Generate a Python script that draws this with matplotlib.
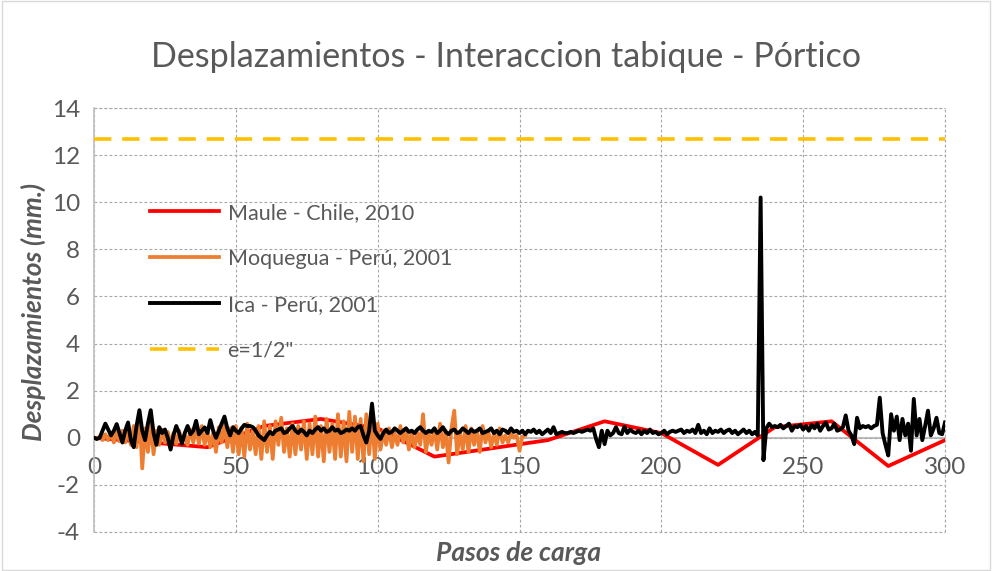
import matplotlib
matplotlib.use("Agg")
import matplotlib.pyplot as plt
from matplotlib.patches import Rectangle

plt.rcParams['font.family'] = ['Lato', 'DejaVu Sans']

# ---------------- data ----------------
maule_x = [0, 20, 40, 60, 80, 100, 120, 140, 160, 180, 200, 220, 240, 260, 280, 300]
maule_y = [0, -0.2, -0.4, 0.5, 0.8, 0.4, -0.8, -0.45, -0.1, 0.7, 0.2, -1.15, 0.45, 0.7, -1.2, -0.1]

moquegua_y = [
    0, -0.05, 0.05, -0.1, 0.15, -0.1, 0.2, -0.2, 0.25, -0.15,
    0.3, -0.2, 0.35, -0.3, 0.5, -0.4, 1.1, -1.3, 0.4, -0.6,
    0.6, -0.7, 0.3, -0.3, 0.35, -0.2, 0.25, -0.3, 0.2, -0.25,
    0.3, -0.2, 0.15, -0.3, 0.35, -0.2, 0.4, -0.25, 0.5, -0.3,
    0.3, -0.4, 0.2, -0.6, 0.45, -0.2, 0.6, -0.4, 0.4, -0.6,
    0.5, -0.7, 0.4, -0.8, 0.6, -0.5, 0.3, -0.7, 0.5, -0.9,
    0.7, -0.6, 0.5, -0.9, 0.7, -0.3, 0.85, -0.6, 0.4, -0.8,
    0.6, -0.7, 0.5, -0.5, 0.7, -0.9, 0.6, -0.7, 0.9, -0.8,
    0.5, -1.0, 0.8, -0.6, 0.6, -0.9, 1.0, -0.8, 0.7, -1.0,
    1.1, -0.6, 0.9, -0.9, 0.8, -1.0, 1.0, -0.7, 0.9, -0.9,
    0.6, -0.5, 0.3, -0.3, 0.4, -0.4, 0.2, -0.3, 0.5, -0.2,
    0.4, -0.5, 0.3, -0.4, 0.2, -0.3, 1.0, -0.6, 0.2, -0.3,
    0.4, -0.5, 0.6, -0.4, 0.3, -1.05, 0.4, 1.15, -0.7, 0.2,
    -0.5, 0.5, -0.6, 0.4, -0.3, 0.3, -0.6, 0.5, -0.2, 0.3,
    -0.4, 0.2, -0.3, 0.4, -0.2, 0.1, -0.2, 0.2, 0.0, 0.1,
    -0.55, 0.05, 0.1,
]
moquegua_x = list(range(len(moquegua_y)))

ica_y = [
    0, -0.05, 0.0, 0.3, 0.6, 0.35, 0.1, 0.3, 0.58, 0.2,
    -0.2, 0.3, 0.65, -0.1, -0.4, 0.5, 1.17, 0.3, -0.1, 0.6,
    1.17, 0.2, -0.3, 0.45, 0.2, 0.35, 0.0, -0.5, 0.1, 0.5,
    0.2, -0.25, 0.2, 0.5, 0.15, 0.3, 0.72, 0.15, 0.3, 0.44,
    0.2, 0.75, 0.3, 0.0, 0.3, 0.6, 0.9, 0.4, 0.1, 0.45,
    0.3, 0.2, 0.4, 0.55, 0.5, 0.5, 0.45, 0.3, 0.1, 0.0,
    -0.1, 0.1, 0.25, 0.15, 0.3, 0.35, 0.4, 0.2, 0.25, 0.4,
    0.5, 0.3, 0.2, 0.35, 0.25, 0.1, 0.3, 0.2, 0.35, 0.45,
    0.3, 0.4, 0.25, 0.3, 0.45, 0.3, 0.35, 0.2, 0.25, 0.35,
    0.3, 0.4, 0.3, 0.45, 0.5, 0.1, -0.2, 0.3, 1.45, 0.3,
    0.1, -0.05, 0.2, 0.35, 0.2, 0.25, 0.4, 0.3, 0.2, 0.3,
    0.4, 0.25, 0.3, 0.2, 0.35, 0.45, 0.3, 0.2, 0.3, 0.25,
    0.4, 0.2, 0.3, 0.45, 0.25, 0.15, 0.3, 0.35, 0.2, 0.25,
    0.4, 0.3, 0.2, 0.35, 0.25, 0.3, 0.4, 0.2, 0.25, 0.3,
    0.4, 0.2, 0.3, 0.15, 0.35, 0.3, 0.2, 0.4, 0.25, 0.3,
    0.2, 0.3, 0.15, 0.3, 0.25, 0.35, 0.2, 0.3, 0.15, 0.25,
    0.35, 0.2, 0.45, 0.15, 0.2, 0.25, 0.2, 0.2, 0.25, 0.2,
    0.25, 0.3, 0.25, 0.3, 0.35, 0.3, 0.4, -0.05, -0.4, 0.3,
    -0.27, 0.3, 0.1, 0.2, 0.45, 0.2, 0.15, 0.47, 0.2, 0.35,
    0.25, 0.2, 0.3, 0.15, 0.3, 0.2, 0.35, 0.2, 0.25, 0.15,
    0.2, 0.3, 0.15, 0.25, 0.3, 0.25, 0.3, 0.35, 0.2, 0.3,
    0.25, 0.35, 0.2, 0.55, 0.2, 0.3, 0.15, 0.4, 0.2, 0.3,
    0.25, 0.35, 0.2, 0.3, 0.35, 0.2, 0.3, 0.15, 0.25, 0.35,
    0.2, 0.3, 0.15, 0.25, 0.1, 10.2, -0.95, 0.4, 0.6, 0.45,
    0.5, 0.45, 0.55, 0.4, 0.5, 0.6, 0.3, 0.5, 0.45, 0.55,
    0.35, 0.5, 0.3, 0.55, 0.4, 0.6, 0.3, 0.5, 0.65, 0.35,
    0.4, 0.6, 0.3, 0.35, 0.45, 0.95, 0.3, 0.1, -0.27, 0.85,
    0.4, 0.5, 0.45, 0.5, 0.4, 0.5, 0.55, 1.7, 0.2, -0.3,
    -0.75, 1.0, 0.3, 0.9, -0.1, 0.8, 0.1, 0.6, -0.55, 1.65,
    0.1, 0.8, -0.1, 0.5, 1.15, 0.1, 0.4, 0.85, 0.2, 0.15,
    0.65,
]
ica_x = list(range(len(ica_y)))

limit_x = [0, 300]
limit_y = [12.7, 12.7]

series_labels = ["Maule - Chile, 2010", "Moquegua - Perú, 2001", "Ica - Perú, 2001", 'e=1/2"']
x_ticks = [0, 50, 100, 150, 200, 250, 300]
y_ticks = [-4, -2, 0, 2, 4, 6, 8, 10, 12, 14]

# ---------------- figure ----------------
W, H = 992, 571
fig = plt.figure(figsize=(W / 100, H / 100), dpi=100)
ax = fig.add_axes([94 / W, 1 - 532 / H, (945 - 94) / W, (532 - 108) / H])

text_color = '#595959'
grid_color = '#A6A6A6'

l1, = ax.plot(maule_x, maule_y, color='#FF0000', lw=2.7, solid_joinstyle='round', zorder=3)
l2, = ax.plot(moquegua_x, moquegua_y, color='#ED7D31', lw=2.7, solid_joinstyle='round', zorder=4)
l3, = ax.plot(ica_x, ica_y, color='#000000', lw=2.8, solid_joinstyle='round', zorder=5)
l4, = ax.plot(limit_x, limit_y, color='#FFC000', lw=2.6, linestyle=(0, (4.8, 3)), zorder=6)

ax.set_xlim(0, 300)
ax.set_ylim(-4, 14)
ax.set_xticks(x_ticks)
ax.set_yticks(y_ticks)
ax.set_xticklabels([str(v) for v in x_ticks])
ax.set_yticklabels([str(v) for v in y_ticks])

ax.grid(True, color=grid_color, linestyle=(0, (2.5, 2)), lw=0.8, zorder=0)
for s in ['top', 'right']:
    ax.spines[s].set_visible(False)
ax.spines['left'].set_color('#BFBFBF')
ax.spines['left'].set_linewidth(1.2)
ax.spines['bottom'].set_position(('data', 0))
ax.spines['bottom'].set_color('#BFBFBF')
ax.spines['bottom'].set_linewidth(1.5)
ax.spines['bottom'].set_zorder(1)
ax.axhline(-4, color=grid_color, linestyle=(0, (2.5, 2)), lw=0.8, zorder=0, clip_on=False)
ax.axhline(14, color=grid_color, linestyle=(0, (2.5, 2)), lw=0.8, zorder=0, clip_on=False)
ax.axvline(300, color=grid_color, linestyle=(0, (2.5, 2)), lw=0.8, zorder=0, clip_on=False)

ax.tick_params(axis='both', length=0, labelsize=17.5, colors=text_color)
ax.tick_params(axis='x', pad=14)
ax.tick_params(axis='y', pad=10)

fig.text(506 / W, 1 - 57 / H, "Desplazamientos - Interaccion tabique - Pórtico",
         ha='center', va='center', fontsize=24.5, color=text_color)
fig.text(519 / W, 1 - 553 / H, "Pasos de carga", ha='center', va='center',
         fontsize=19, fontweight='bold', fontstyle='italic', color=text_color)
fig.text(33 / W, 1 - 312 / H, "Desplazamientos (mm.)", ha='center', va='center',
         rotation=90, fontsize=19, fontweight='bold', fontstyle='italic', color=text_color)

leg = ax.legend([l1, l2, l3, l4], series_labels, loc='upper left',
                bbox_to_anchor=(150 / W, 1 - 203 / H), bbox_transform=fig.transFigure,
                frameon=False, fontsize=15.5, handlelength=3.2, handletextpad=0.4,
                labelspacing=1.2, borderpad=0, borderaxespad=0)
for t in leg.get_texts():
    t.set_color(text_color)

fig.add_artist(Rectangle((0.002, 0.002), 0.996, 0.996, transform=fig.transFigure,
                         fill=False, edgecolor='#D9D9D9', lw=1))

fig.savefig("out.png", dpi=100, facecolor='white')
